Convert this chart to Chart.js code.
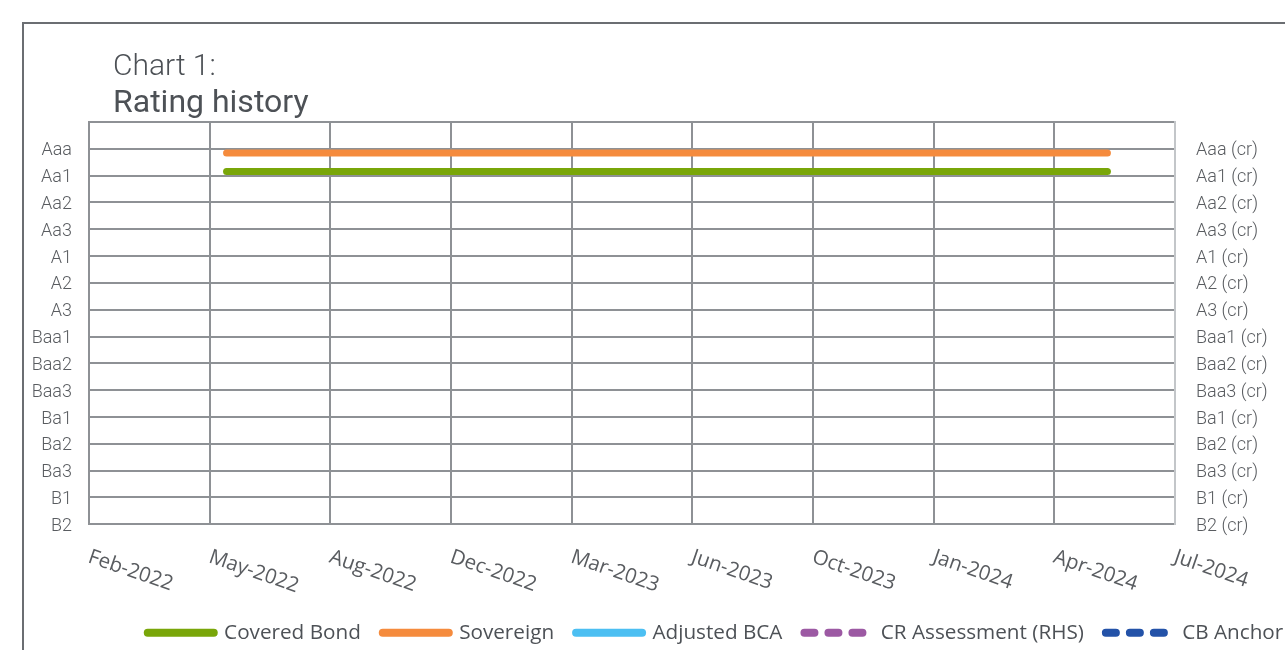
<!DOCTYPE html>
<html>
<head>
<meta charset="utf-8">
<title>Rating history</title>
<script src="https://cdn.jsdelivr.net/npm/chart.js@4.4.1/dist/chart.umd.min.js"></script>
<style>
  html, body { margin: 0; padding: 0; background: #ffffff; overflow: hidden; }
  #frame {
    position: absolute; left: 22px; top: 22px; width: 1500px; height: 700px;
    border-left: 2px solid #6b6e72; border-top: 2px solid #6b6e72;
  }
  #chartRating { position: absolute; left: 0; top: 0; }
</style>
</head>
<body>
<div id="frame"></div>
<canvas id="chartRating" width="1431" height="653"></canvas>
<script>
// rating scale, top to bottom (B2 = 0 ... Aaa = 14)
var ratingLabels = ["Aaa", "Aa1", "Aa2", "Aa3", "A1", "A2", "A3", "Baa1", "Baa2", "Baa3", "Ba1", "Ba2", "Ba3", "B1", "B2"];
var xTickLabels = ["Feb-2022", "May-2022", "Aug-2022", "Dec-2022", "Mar-2023", "Jun-2023", "Oct-2023", "Jan-2024", "Apr-2024", "Jul-2024"];
var axisStart = "2022-02-10";
var axisStepDays = 100;

var seriesNames = ["Covered Bond", "Sovereign", "Adjusted BCA", "CR Assessment (RHS)", "CB Anchor"];
var coveredBondDates = ["2022-06-04", "2024-06-03"];
var coveredBondValues = [13.15, 13.15];
var sovereignDates = ["2022-06-04", "2024-06-03"];
var sovereignValues = [13.84, 13.84];
var adjustedBcaDates = [];
var adjustedBcaValues = [];
var crAssessmentDates = [];
var crAssessmentValues = [];
var cbAnchorDates = [];
var cbAnchorValues = [];

function toDay(d) {
  return (Date.parse(d) - Date.parse(axisStart)) / 86400000;
}
function points(dates, values) {
  return dates.map(function (d, i) {
    return { x: toDay(d), y: values[i] };
  });
}

var gridColor = "#8e9195";
var textColor = "#595c60";
var plotLeft = 89, plotRight = 1175, plotTop = 122, plotBottom = 524;
var canvasWidth = 1431;

// title + rotated date labels
const decorPlugin = {
  id: "decor",
  afterDraw: function (chart) {
    var ctx = chart.ctx;
    ctx.save();
    ctx.fillStyle = "#4d5156";
    ctx.textAlign = "left";
    ctx.textBaseline = "alphabetic";
    ctx.font = "300 30px Roboto";
    ctx.fillText("Chart 1:", 113, 75);
    ctx.font = "400 32px Roboto";
    ctx.fillText("Rating history", 113, 112);

    var xs = chart.scales.x;
    ctx.font = "400 20.5px 'Open Sans'";
    ctx.fillStyle = textColor;
    xs.ticks.forEach(function (t) {
      var px = xs.getPixelForValue(t.value);
      var label = xTickLabels[Math.round(t.value / axisStepDays)];
      ctx.save();
      ctx.translate(px - 2, plotBottom + 38);
      ctx.rotate((19 * Math.PI) / 180);
      ctx.fillText(label, 0, 0);
      ctx.restore();
    });
    ctx.restore();
  },
};

var ctx = document.getElementById("chartRating");
var chartRating = new Chart(ctx, {
  type: "line",
  data: {
    datasets: [
      {
        label: seriesNames[0],
        data: points(coveredBondDates, coveredBondValues),
        borderColor: "#79a609",
        backgroundColor: "#79a609",
        yAxisID: "y",
      },
      {
        label: seriesNames[1],
        data: points(sovereignDates, sovereignValues),
        borderColor: "#f58b3d",
        backgroundColor: "#f58b3d",
        yAxisID: "y",
      },
      {
        label: seriesNames[2],
        data: points(adjustedBcaDates, adjustedBcaValues),
        borderColor: "#4cbff2",
        backgroundColor: "#4cbff2",
        yAxisID: "y",
      },
      {
        label: seriesNames[3],
        data: points(crAssessmentDates, crAssessmentValues),
        borderColor: "#9c59a3",
        backgroundColor: "#9c59a3",
        borderDash: [10, 14],
        yAxisID: "y2",
      },
      {
        label: seriesNames[4],
        data: points(cbAnchorDates, cbAnchorValues),
        borderColor: "#2352a8",
        backgroundColor: "#2352a8",
        borderDash: [10, 14],
        yAxisID: "y",
      },
    ],
  },
  options: {
    responsive: false,
    animation: false,
    layout: { padding: { top: plotTop, left: 0, right: 0, bottom: 0 } },
    elements: {
      line: { borderWidth: 7, borderCapStyle: "round", tension: 0 },
      point: { radius: 0 },
    },
    plugins: {
      title: { display: false },
      tooltip: { enabled: false },
      legend: {
        position: "bottom",
        labels: {
          usePointStyle: true,
          pointStyle: "line",
          pointStyleWidth: 66,
          padding: 22,
          color: "#4d5156",
          font: { family: "'Open Sans'", size: 20.7 },
          generateLabels: function (chart) {
            return chart.data.datasets.map(function (ds, i) {
              return {
                text: ds.label,
                datasetIndex: i,
                fillStyle: ds.borderColor,
                strokeStyle: ds.borderColor,
                fontColor: "#4d5156",
                lineWidth: 8,
                lineCap: "round",
                lineDash: ds.borderDash || [],
                pointStyle: "line",
                hidden: false,
              };
            });
          },
        },
      },
    },
    scales: {
      x: {
        type: "linear",
        min: 0,
        max: axisStepDays * (xTickLabels.length - 1),
        ticks: { stepSize: axisStepDays, display: false },
        grid: { color: gridColor, lineWidth: 2, drawTicks: false },
        border: { color: gridColor, width: 2 },
        afterFit: function (scale) {
          scale.height = 76;
        },
      },
      y: {
        type: "linear",
        position: "left",
        min: 0,
        max: ratingLabels.length,
        ticks: {
          stepSize: 1,
          padding: 17,
          labelOffset: 2,
          color: textColor,
          font: { family: "Roboto", weight: "300", size: 18 },
          callback: function (v) {
            return ratingLabels[ratingLabels.length - 1 - v] || "";
          },
        },
        grid: { color: gridColor, lineWidth: 2, drawTicks: false },
        border: { color: gridColor, width: 2 },
        afterFit: function (scale) {
          scale.width = plotLeft;
        },
      },
      y2: {
        type: "linear",
        position: "right",
        min: 0,
        max: ratingLabels.length,
        ticks: {
          stepSize: 1,
          padding: 21,
          labelOffset: 2,
          color: textColor,
          font: { family: "Roboto", weight: "300", size: 18 },
          callback: function (v) {
            var l = ratingLabels[ratingLabels.length - 1 - v];
            return l ? l + " (cr)" : "";
          },
        },
        grid: { display: false, drawTicks: false },
        border: { color: "#c3c6c9", width: 2 },
        afterFit: function (scale) {
          scale.width = canvasWidth - plotRight;
        },
      },
    },
  },
  plugins: [decorPlugin],
});
</script>
</body>
</html>
